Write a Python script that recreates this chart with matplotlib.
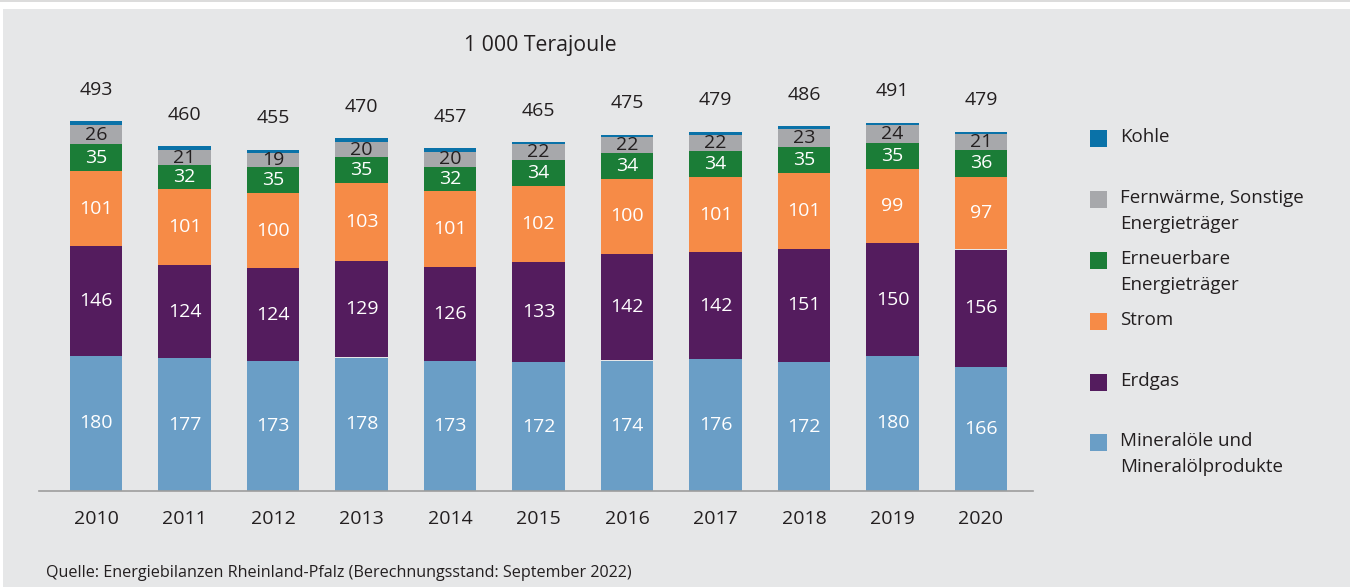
import numpy as np
import matplotlib.pyplot as plt
from matplotlib.patches import Rectangle

plt.rcParams["font.family"] = ["Open Sans", "DejaVu Sans"]

years = ["2010", "2011", "2012", "2013", "2014", "2015",
         "2016", "2017", "2018", "2019", "2020"]

# 1 000 Terajoule je Energieträger
mineraloel = [180, 177, 173, 178, 173, 172, 174, 176, 172, 180, 166]
erdgas = [146, 124, 124, 129, 126, 133, 142, 142, 151, 150, 156]
strom = [101, 101, 100, 103, 101, 102, 100, 101, 101, 99, 97]
erneuerbare = [35, 32, 35, 35, 32, 34, 34, 34, 35, 35, 36]
fernwaerme = [26, 21, 19, 20, 20, 22, 22, 22, 23, 24, 21]
totals = [493, 460, 455, 470, 457, 465, 475, 479, 486, 491, 479]

# Kohle ist nicht beschriftet: Rest bis zur Gesamtsumme
kohle = (np.array(totals) - np.array(mineraloel) - np.array(erdgas) - np.array(strom)
         - np.array(erneuerbare) - np.array(fernwaerme))

series = [
    ("Mineralöle und\nMineralölprodukte", mineraloel, "#6a9ec6", "white"),
    ("Erdgas", erdgas, "#541c5e", "white"),
    ("Strom", strom, "#f68b47", "white"),
    ("Erneuerbare\nEnergieträger", erneuerbare, "#1b7d37", "white"),
    ("Fernwärme, Sonstige\nEnergieträger", fernwaerme, "#a7a8ab", "#231f20"),
    ("Kohle", kohle, "#0a72a8", None),
]

BG = "#e6e7e8"
TXT = "#231f20"
W, H = 1350, 587

fig = plt.figure(figsize=(W / 100, H / 100), dpi=100, facecolor="white")
fig.patches.append(Rectangle((3 / W, 0), 1, 1 - 9 / H, transform=fig.transFigure,
                             facecolor=BG, edgecolor="none", zorder=-10))
fig.patches.append(Rectangle((0, 1 - 1.5 / H), 1, 1.5 / H, transform=fig.transFigure,
                             facecolor="#dcdcdc", edgecolor="none", zorder=-10))

# Achse: Grundlinie bei y=491 px, 0.75 px pro Einheit
ax_left, ax_right = 39, 1033
ax_bottom, ax_top = 491, 60
ax = fig.add_axes([ax_left / W, 1 - ax_bottom / H,
                   (ax_right - ax_left) / W, (ax_bottom - ax_top) / H])
ax.set_facecolor("none")
ax.set_xlim(-0.644, 10.588)
ax.set_ylim(0, (ax_bottom - ax_top) / 0.75)

x = np.arange(len(years))
bottom = np.zeros(len(years))
for name, vals, color, lblcolor in series:
    vals = np.array(vals, dtype=float)
    ax.bar(x, vals, 0.59, bottom=bottom, color=color, linewidth=0)
    if lblcolor is not None:
        for xi, b, v in zip(x, bottom, vals):
            ax.text(xi, b + v / 2, f"{int(v)}", ha="center", va="center",
                    fontsize=14, color=lblcolor)
    bottom += vals

for xi, t in zip(x, totals):
    ax.annotate(f"{t}", (xi, t), xytext=(0, 22.5), textcoords="offset points",
                ha="center", va="center", fontsize=14, color=TXT)

for s in ["top", "right", "left"]:
    ax.spines[s].set_visible(False)
ax.spines["bottom"].set_color("#9d9d9d")
ax.spines["bottom"].set_linewidth(1.2)
ax.set_yticks([])
ax.set_xticks(x)
ax.set_xticklabels(years, fontsize=14, color=TXT)
ax.tick_params(axis="x", length=0, pad=14)

fig.text(540 / W, 1 - 45 / H, "1 000 Terajoule", ha="center", va="center",
         fontsize=15.3, color=TXT)

# Legende: je Zeile ein Textobjekt, 26 px Zeilenabstand
legend_rows = [
    (["Kohle"], 137, "#0a72a8"),
    (["Fernwärme, Sonstige", "Energieträger"], 198, "#a7a8ab"),
    (["Erneuerbare", "Energieträger"], 259, "#1b7d37"),
    (["Strom"], 320, "#f68b47"),
    (["Erdgas"], 381, "#541c5e"),
    (["Mineralöle und", "Mineralölprodukte"], 441, "#6a9ec6"),
]
for lines, ypx, color in legend_rows:
    fig.patches.append(Rectangle((1090 / W, 1 - (ypx + 10) / H), 17 / W, 17 / H,
                                 transform=fig.transFigure, facecolor=color,
                                 edgecolor="none"))
    for i, line in enumerate(lines):
        fig.text(1120 / W, 1 - (ypx + i * 26) / H, line, ha="left", va="center",
                 fontsize=13.5, color=TXT)

fig.text(46 / W, 1 - 573 / H,
         "Quelle: Energiebilanzen Rheinland-Pfalz (Berechnungsstand: September 2022)",
         ha="left", va="center", fontsize=11.6, color=TXT)

fig.savefig("out.png", dpi=100, facecolor=fig.get_facecolor())
